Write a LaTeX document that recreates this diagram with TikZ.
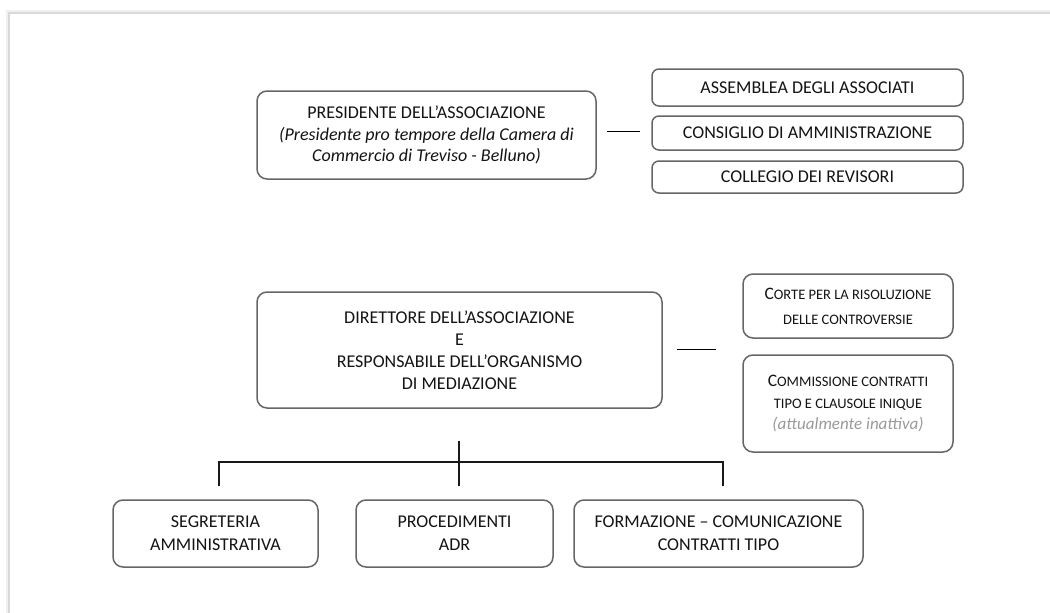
\documentclass[tikz,border=0pt]{standalone}
\usepackage{fontspec}
\setmainfont{Carlito}
\definecolor{txt}{HTML}{141414}
\definecolor{bord}{HTML}{666666}
\definecolor{inact}{HTML}{9A9A9A}
\newcommand\smallcapsfake[1]{{\fontsize{14.5}{17}\selectfont #1}}
\newcommand\bigC[1]{{\fontsize{17.5}{17}\selectfont #1}}
\begin{document}
\begin{tikzpicture}[x=1pt,y=-1pt,
  box/.style={draw=bord, line width=1.5pt, rounded corners=10pt, align=center, text=txt,
    inner sep=0pt, font=\fontsize{18}{21.5}\selectfont},
  sbox/.style={box, rounded corners=7pt},
  link/.style={draw=black, line width=1pt},
  tree/.style={draw=black!90, line width=2pt}]
\useasboundingbox (0,0) rectangle (1050,613);
% page with shadow
\fill[white] (0,0) rectangle (1050,613);
\fill[gray!12] (6,10) rectangle (1050,613);
\fill[gray!30] (8,12) rectangle (1050,613);
\fill[white] (10,14) rectangle (1050,613);

% top part
\node[box, minimum width=339pt, minimum height=88pt] (pres) at (426.5,135)
  {PRESIDENTE DELL’ASSOCIAZIONE\\ \textit{(Presidente pro tempore della Camera di}\\ \textit{Commercio di Treviso - Belluno)}};
\node[sbox, minimum width=311pt, minimum height=37pt] (ass) at (807.5,87.5) {ASSEMBLEA DEGLI ASSOCIATI};
\node[sbox, minimum width=311pt, minimum height=34pt] (cons) at (807.5,133) {CONSIGLIO DI AMMINISTRAZIONE};
\node[sbox, minimum width=311pt, minimum height=32pt] (coll) at (807.5,177) {COLLEGIO DEI REVISORI};
\coordinate (pl) at (607,131);
\coordinate (pr) at (640,131);
\draw[link] (pl) -- (pr);

% middle part
\node[box, minimum width=405pt, minimum height=116pt, font=\fontsize{18}{22}\selectfont] (dir) at (459.5,350)
  {DIRETTORE DELL’ASSOCIAZIONE\\ E\\ RESPONSABILE DELL’ORGANISMO\\ DI MEDIAZIONE};
\coordinate (dl) at (677,349);
\coordinate (dr) at (716,349);
\draw[link] (dl) -- (dr);
\node[box, minimum width=210pt, minimum height=64pt, font=\fontsize{17}{25}\selectfont] (corte) at (848,306)
  {\bigC{C}\smallcapsfake{ORTE PER LA RISOLUZIONE}\\ \smallcapsfake{DELLE CONTROVERSIE}};
\node[box, minimum width=210pt, minimum height=97pt, font=\fontsize{17}{21.5}\selectfont] (comm) at (848,403.5)
  {\bigC{C}\smallcapsfake{OMMISSIONE CONTRATTI}\\ \smallcapsfake{TIPO E CLAUSOLE INIQUE}\\ {\color{inact}\itshape (attualmente inattiva)}};

% bottom boxes
\node[box, minimum width=205pt, minimum height=67pt, font=\fontsize{18}{23}\selectfont] (seg) at (215.5,533.5)
  {SEGRETERIA\\ AMMINISTRATIVA};
\node[box, minimum width=197pt, minimum height=67pt, font=\fontsize{18}{23}\selectfont] (proc) at (454.5,533.5)
  {PROCEDIMENTI\\ ADR};
\node[box, minimum width=289pt, minimum height=67pt, font=\fontsize{18}{23}\selectfont] (form) at (718.5,533.5)
  {FORMAZIONE – COMUNICAZIONE\\ CONTRATTI TIPO};

% tree
\coordinate (ttop) at (459,441);
\coordinate (tmid) at (459,462);
\coordinate (tbot) at (459,486);
\coordinate (tl) at (219,462);
\coordinate (tr) at (723,462);
\coordinate (tlb) at (219,486);
\coordinate (trb) at (723,486);
\draw[tree] (ttop) -- (tbot);
\draw[tree] (tlb) -- (tl) -- (tr) -- (trb);
\end{tikzpicture}
\end{document}
